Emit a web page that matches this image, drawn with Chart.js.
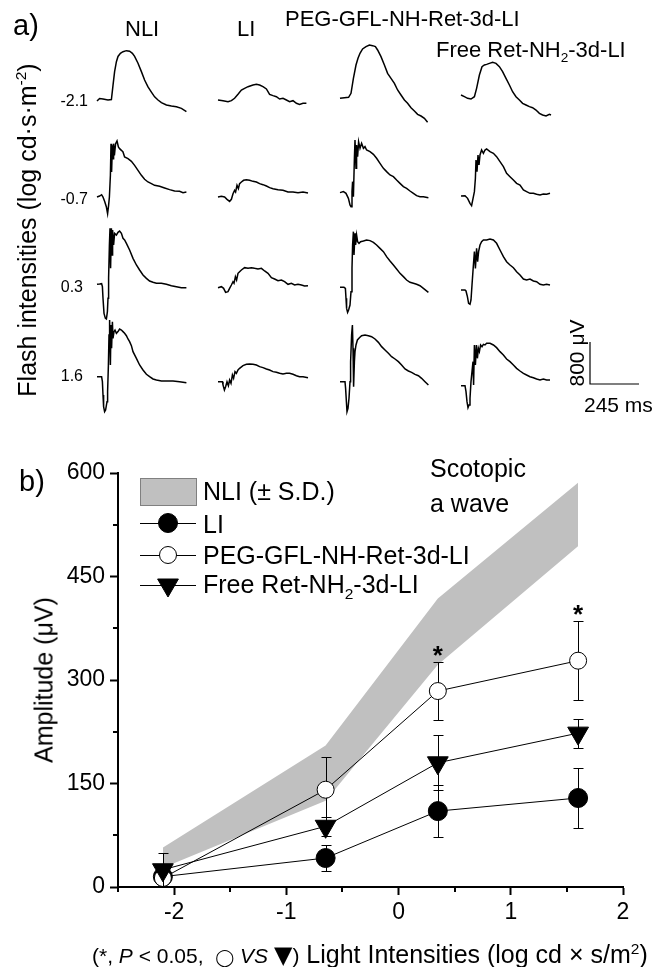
<!DOCTYPE html>
<html>
<head>
<meta charset="utf-8">
<title>ERG traces and scotopic a-wave amplitude</title>
<script src="https://cdn.jsdelivr.net/npm/chart.js"></script>
<style>
  html, body { margin: 0; padding: 0; background: #fff; }
  #fig { position: relative; width: 654px; height: 967px; overflow: hidden;
         font-family: "Liberation Sans", Arial, sans-serif; color: #000; }
  #fig canvas { position: absolute; left: 0; }
  .t { position: absolute; white-space: nowrap; line-height: 1; }
  .t sub, .t sup { font-size: 62%; line-height: 0; }
  .rot { transform: translate(-50%, -50%) rotate(-90deg); }
  .sym { line-height: 0; font-family: "DejaVu Sans", sans-serif; }
</style>
</head>
<body>
<div id="fig">
  <canvas id="ergChart" width="654" height="470" style="top:0"></canvas>
  <canvas id="ampChart" width="654" height="527" style="top:440px"></canvas>

  <!-- panel a labels -->
  <div class="t" style="left:13px;top:11px;font-size:29px">a)</div>
  <div class="t" style="left:125px;top:18px;font-size:22px">NLI</div>
  <div class="t" style="left:237px;top:18px;font-size:22px">LI</div>
  <div class="t" style="left:285px;top:8px;font-size:22px">PEG-GFL-NH-Ret-3d-LI</div>
  <div class="t" style="left:436px;top:39px;font-size:22px">Free Ret-NH<sub>2</sub>-3d-LI</div>
  <div class="t" style="right:566px;top:93px;font-size:16px;text-align:right">-2.1</div>
  <div class="t" style="right:566px;top:191px;font-size:16px;text-align:right">-0.7</div>
  <div class="t" style="right:571px;top:279px;font-size:16px;text-align:right">0.3</div>
  <div class="t" style="right:571px;top:368px;font-size:16px;text-align:right">1.6</div>
  <div class="t rot" style="left:27px;top:230px;font-size:25px">Flash intensities (log cd·s·m<sup>-2</sup>)</div>
  <div class="t rot" style="left:576px;top:353px;font-size:21px">800 μV</div>
  <div class="t" style="left:584px;top:394px;font-size:21px">245 ms</div>

  <!-- panel b labels -->
  <div class="t" style="left:19px;top:467px;font-size:29px">b)</div>
  <div class="t" style="left:203px;top:479px;font-size:25px">NLI (± S.D.)</div>
  <div class="t" style="left:203px;top:512px;font-size:25px">LI</div>
  <div class="t" style="left:203px;top:543px;font-size:25px">PEG-GFL-NH-Ret-3d-LI</div>
  <div class="t" style="left:203px;top:572px;font-size:25px">Free Ret-NH<sub>2</sub>-3d-LI</div>
  <div class="t" style="left:430px;top:456px;font-size:25px">Scotopic</div>
  <div class="t" style="left:430px;top:491px;font-size:25px">a wave</div>
  <div class="t rot" style="left:44px;top:680px;font-size:25px">Amplitude (μV)</div>
  <div class="t" style="left:92px;top:942px;font-size:25px"><span style="font-size:21px">(*, <i>P</i> &lt; 0.05,&nbsp; <span class="sym" style="font-size:17px">◯</span> <i>VS</i> <span class="sym" style="font-size:24px">▼</span>)</span> Light Intensities (log cd × s/m<sup>2</sup>)</div>
</div>

<script>
Chart.defaults.font.family = '"Liberation Sans", Arial, sans-serif';
Chart.defaults.color = '#000';

// ---------- panel a: ERG traces, time (ms from trace start) / amplitude (µV) ----------
// flash -2.1
const t_NLI_1 = [0,13,30,55,72,80,88,97,105,117,130,147,163,177,188,205,222,238,255,272,288,305,322,347,372,397,422,447];
const v_NLI_1 = [-20,30,20,0,10,280,540,730,830,890,920,940,930,890,830,700,540,380,250,150,60,0,-50,-95,-115,-130,-160,-220];
const t_LI_1 = [0,25,50,67,83,100,117,133,150,175,192,208,225,242,258,275,292,308,325,342,358,375,392,408,425,442];
const v_LI_1 = [0,-13,-32,-13,32,108,190,222,254,286,298,286,254,210,108,83,63,19,32,0,-32,-13,-63,-83,-63,-63];
const t_PEG_1 = [0,22,43,55,67,80,90,100,113,130,147,163,177,188,205,222,238,255,272,288,305,322,338,355,372,388,405,422,438];
const v_PEG_1 = [32,45,51,127,413,667,794,889,972,1016,1048,1035,1016,953,826,667,508,413,318,191,95,0,-63,-146,-209,-273,-305,-349,-425];
const t_FREE_1 = [0,17,33,50,67,78,92,105,117,128,142,158,175,192,208,225,242,258,275,292,308,325,342,358,375,392,408,425,442,450];
const v_FREE_1 = [95,63,32,19,63,222,476,635,667,679,698,717,698,635,540,413,286,158,63,0,-64,-96,-127,-146,-191,-254,-286,-305,-273,-286];
// flash -0.7
const t_NLI_2 = [0,13,23,30,38,47,53,58,62,67,70,73,77,80,83,87,93,100,107,113,122,130,138,155,172,188,205,222,238,255,272,288,313,338,363,388,413,430,447];
const v_NLI_2 = [0,19,44,0,-83,-191,-318,-159,0,413,1016,476,984,730,1016,794,1016,1067,953,921,889,857,762,730,679,603,508,413,337,286,254,222,203,171,140,114,108,83,95];
const t_LI_2 = [0,17,33,45,58,67,75,83,88,95,102,108,117,128,142,158,175,192,208,225,242,258,275,300,325,350,375,400,425,450];
const v_LI_2 = [0,13,0,-44,-83,-44,63,127,95,222,159,254,286,318,330,318,298,286,254,235,210,178,159,140,127,95,95,83,95,76];
const t_PEG_2 = [0,17,30,42,50,55,60,63,67,72,75,80,83,88,93,100,108,117,125,133,150,167,183,200,217,233,250,267,283,300,317,333,350,367,383,400,417,442];
const v_PEG_2 = [83,102,70,-25,-152,-184,102,292,6,737,1086,546,991,768,1054,927,1022,927,959,895,864,813,737,641,546,483,419,387,324,260,197,165,114,70,25,6,6,-13];
const t_FREE_2 = [0,20,33,45,53,62,67,72,75,80,85,90,95,103,112,120,128,145,162,178,195,212,228,245,262,278,295,312,328,345,362,378,395,412,428,445];
const v_FREE_2 = [19,25,-25,-121,-165,6,102,356,705,483,800,610,800,895,832,895,914,864,832,768,673,578,451,387,324,260,229,133,102,70,70,51,38,57,51,70];
// flash 0.3
const t_NLI_3 = [0,13,23,27,30,35,42,47,52,55,58,62,65,68,72,75,78,83,88,97,105,113,122,130,138,147,163,180,197,213,230,247,263,280,297,322,347,372,397,422,447];
const v_NLI_3 = [-6,0,6,-51,-273,-559,-654,-667,-527,-273,108,743,1060,298,1060,552,1029,743,965,933,984,1010,965,870,838,775,648,489,362,267,171,108,57,32,13,13,-6,-32,-51,-70,-70];
const t_LI_3 = [0,17,28,38,50,58,67,75,80,87,93,100,108,117,133,150,167,183,200,217,233,250,267,283,300,317,333,350,367,383,400,417,433,450];
const v_LI_3 = [-70,-51,-83,-159,-146,-83,-19,44,13,140,76,203,235,267,311,298,311,298,286,298,248,203,121,95,63,76,44,-6,13,-19,-6,-19,-38,-32];
const t_PEG_3 = [0,20,27,30,33,38,43,50,55,60,63,67,70,75,78,83,88,95,103,117,133,150,167,183,200,217,233,250,267,283,300,317,333,350,367,383,400,417,442];
const v_PEG_3 = [-64,-64,-83,-273,-464,-540,-495,-400,-146,298,743,997,552,965,743,933,806,775,806,819,838,826,794,743,679,616,521,438,362,286,203,140,76,32,13,-6,-32,-83,-159];
const t_FREE_3 = [0,20,25,32,38,45,50,55,62,67,72,78,83,88,95,103,112,128,145,162,178,195,212,228,245,262,278,295,312,328,345,362,378,395,412,428,445];
const v_FREE_3 = [-114,-114,-133,-241,-368,-387,-305,-19,362,616,298,679,425,616,743,806,838,838,857,838,775,648,521,425,362,311,235,171,95,76,95,57,44,-6,-19,-6,-19];
// flash 1.6
const t_NLI_4 = [0,23,27,30,33,38,43,50,53,57,60,63,67,70,73,77,80,85,90,97,105,113,122,130,138,147,155,163,172,180,197,213,230,247,263,280,297,322,347,380,413,447];
const v_NLI_4 = [6,6,-89,-343,-565,-660,-629,-470,-279,229,800,1086,229,991,546,1054,737,864,895,832,864,914,895,864,832,787,724,673,597,483,356,229,133,51,6,-38,-57,-76,-76,-76,-89,-108];
const t_LI_4 = [0,22,25,32,38,45,52,58,65,72,78,85,92,100,108,125,142,158,175,192,208,225,242,258,275,292,308,325,342,358,375,392,408,425,450];
const v_LI_4 = [-89,-89,-152,-248,-184,-89,-165,-57,-121,38,-25,102,70,133,165,216,241,248,241,229,197,178,152,133,102,89,70,57,70,70,51,25,6,6,-13];
const t_PEG_4 = [0,25,28,32,35,40,45,50,53,58,62,65,68,72,75,80,87,97,108,125,142,158,175,192,208,225,242,258,275,292,308,325,342,358,375,392,408,425,442];
const v_PEG_4 = [-89,-89,-216,-470,-660,-597,-406,-89,292,800,991,546,-184,292,483,610,705,749,787,800,787,768,724,660,578,514,451,387,343,292,229,152,114,89,51,25,-25,-89,-152];
const t_FREE_4 = [0,20,25,30,35,40,45,50,55,60,63,67,72,77,82,87,92,98,105,112,120,128,145,162,178,195,212,228,245,262,278,295,312,328,345,362,378,395,412,428,445];
const v_FREE_4 = [-165,-165,-279,-470,-584,-533,-406,-89,102,292,-152,610,229,610,356,546,483,610,578,622,610,641,641,610,559,483,419,343,292,229,165,114,70,38,6,-13,-38,-57,-38,-57,-57];

const scaleBarUv = 800;
const scaleBarMs = 245;

// ---------- panel b: scotopic a-wave amplitude (µV) ----------
const lightX = [-2.1, -0.65, 0.35, 1.6];
const nliUpper = [57, 205, 418, 586];
const nliLower = [28, 125, 322, 494];
const liMean = [15, 42, 110, 129];
const liSD = [8, 19, 38, 43];
const pegMean = [13, 141, 284, 328];
const pegSD = [8, 47, 42, 57];
const freeMean = [25, 88, 180, 223];
const freeSD = [24, 14, 40, 21];
const pegVsFreeSig = [false, false, true, true];
const xTicks = [-2, -1, 0, 1, 2];
const xMinor = [-2.5, -1.5, -0.5, 0.5, 1.5];
const yTicks = [0, 150, 300, 450, 600];
const yMinor = [75, 225, 375, 525];

// ---------- panel a chart ----------
// one chart for the whole block of traces; 49 px = 245 ms, 42 px = 800 µV (scale bar)
var msPerPx = scaleBarMs / 49;
var uvPerPx = scaleBarUv / 42;
var colLeft = [97, 218, 340, 461];   // px where each column of traces starts
var rowBase = [100, 197, 284, 377];  // px baseline of each flash row
var traceRows = [
  [[t_NLI_1, v_NLI_1], [t_LI_1, v_LI_1], [t_PEG_1, v_PEG_1], [t_FREE_1, v_FREE_1]],
  [[t_NLI_2, v_NLI_2], [t_LI_2, v_LI_2], [t_PEG_2, v_PEG_2], [t_FREE_2, v_FREE_2]],
  [[t_NLI_3, v_NLI_3], [t_LI_3, v_LI_3], [t_PEG_3, v_PEG_3], [t_FREE_3, v_FREE_3]],
  [[t_NLI_4, v_NLI_4], [t_LI_4, v_LI_4], [t_PEG_4, v_PEG_4], [t_FREE_4, v_FREE_4]]
];

var ergDatasets = [];
traceRows.forEach(function(row, r) {
  row.forEach(function(tr, c) {
    var x0 = colLeft[c] * msPerPx, y0 = (470 - rowBase[r]) * uvPerPx;
    ergDatasets.push({
      data: tr[0].map(function(t, i) { return { x: x0 + t, y: y0 + tr[1][i] }; }),
      borderColor: '#000', borderWidth: 1.5, pointRadius: 0, fill: false, tension: 0
    });
  });
});
// scale bar: corner at (590, 384) px
var sbX = 590 * msPerPx, sbY = (470 - 384) * uvPerPx;
ergDatasets.push({
  data: [{ x: sbX, y: sbY + scaleBarUv }, { x: sbX, y: sbY }, { x: sbX + scaleBarMs, y: sbY }],
  borderColor: '#000', borderWidth: 1.2, pointRadius: 0, fill: false, tension: 0
});

new Chart(document.getElementById('ergChart'), {
  type: 'line',
  data: { datasets: ergDatasets },
  options: {
    responsive: false, animation: false, events: [],
    layout: { padding: 0 },
    plugins: { legend: { display: false }, tooltip: { enabled: false } },
    scales: {
      x: { type: 'linear', display: false, min: 0, max: 654 * msPerPx },
      y: { type: 'linear', display: false, min: 0, max: 470 * uvPerPx }
    }
  }
});

// ---------- panel b chart ----------
var bandGray = 'rgb(192,192,192)';
function pts(ys) { return lightX.map(function(x, i) { return { x: x, y: ys[i] }; }); }

// error bars under each dataset's own line and markers
var errorBars = {
  id: 'errorBars',
  beforeDatasetDraw: function(chart, args) {
    var ds = chart.data.datasets[args.index];
    if (!ds.errors) return;
    var ctx = chart.ctx, xs = chart.scales.x, ys = chart.scales.y;
    ctx.save();
    ctx.strokeStyle = '#000';
    ctx.lineWidth = 1;
    ds.data.forEach(function(p, i) {
      var px = Math.round(xs.getPixelForValue(p.x)) + 0.5;
      var top = Math.round(ys.getPixelForValue(p.y + ds.errors[i])) + 0.5;
      var bot = Math.round(ys.getPixelForValue(p.y - ds.errors[i])) + 0.5;
      ctx.beginPath();
      ctx.moveTo(px, top); ctx.lineTo(px, bot);
      ctx.moveTo(px - 5, top); ctx.lineTo(px + 5, top);
      ctx.moveTo(px - 5, bot); ctx.lineTo(px + 5, bot);
      ctx.stroke();
    });
    ctx.restore();
  }
};

// minor ticks, asterisks and the legend symbols
var extras = {
  id: 'extras',
  afterDraw: function(chart) {
    var ctx = chart.ctx, xs = chart.scales.x, ys = chart.scales.y, area = chart.chartArea;
    ctx.save();
    ctx.strokeStyle = '#000';
    ctx.lineWidth = 2;
    xMinor.forEach(function(v) {
      var px = Math.round(xs.getPixelForValue(v));
      ctx.beginPath(); ctx.moveTo(px, area.bottom); ctx.lineTo(px, area.bottom + 5); ctx.stroke();
    });
    yMinor.forEach(function(v) {
      var py = Math.round(ys.getPixelForValue(v));
      ctx.beginPath(); ctx.moveTo(area.left - 5, py); ctx.lineTo(area.left, py); ctx.stroke();
    });

    // significance stars above PEG error bars
    ctx.fillStyle = '#000';
    ctx.font = 'bold 26px "Liberation Sans", Arial, sans-serif';
    ctx.textAlign = 'center';
    ctx.textBaseline = 'alphabetic';
    pegVsFreeSig.forEach(function(sig, i) {
      if (!sig) return;
      ctx.fillText('*', xs.getPixelForValue(lightX[i]), ys.getPixelForValue(pegMean[i] + pegSD[i]) + 2);
    });

    // legend symbols (text is in the page)
    ctx.fillStyle = bandGray;
    ctx.fillRect(140, 38, 56, 27);
    ctx.strokeStyle = '#808080';
    ctx.lineWidth = 1;
    ctx.strokeRect(140.5, 38.5, 56, 27);
    [[2, 83], [3, 115], [4, 145]].forEach(function(item) {
      var ds = chart.data.datasets[item[0]], y = item[1];
      ctx.strokeStyle = '#000';
      ctx.lineWidth = 1;
      ctx.beginPath(); ctx.moveTo(140, y + 0.5); ctx.lineTo(196, y + 0.5); ctx.stroke();
      ctx.fillStyle = ds.pointBackgroundColor;
      ctx.strokeStyle = ds.pointBorderColor;
      ctx.lineWidth = ds.pointBorderWidth;
      Chart.helpers.drawPoint(ctx, {
        pointStyle: ds.pointStyle, radius: ds.pointRadius,
        rotation: ds.pointRotation || 0, borderWidth: ds.pointBorderWidth
      }, 168, y);
    });
    ctx.restore();
  }
};

new Chart(document.getElementById('ampChart'), {
  type: 'line',
  data: {
    datasets: [
      { label: 'NLI (± S.D.)', data: pts(nliUpper), fill: '+1', backgroundColor: bandGray,
        borderColor: 'transparent', borderWidth: 0, pointRadius: 0, order: 10 },
      { label: 'NLI lower', data: pts(nliLower), fill: false,
        borderColor: 'transparent', borderWidth: 0, pointRadius: 0, order: 11 },
      { label: 'LI', data: pts(liMean), errors: liSD, borderColor: '#000', borderWidth: 1,
        pointStyle: 'circle', pointRadius: 9.5, pointBackgroundColor: '#000',
        pointBorderColor: '#000', pointBorderWidth: 1, order: 2 },
      { label: 'PEG-GFL-NH-Ret-3d-LI', data: pts(pegMean), errors: pegSD, borderColor: '#000', borderWidth: 1,
        pointStyle: 'circle', pointRadius: 8.5, pointBackgroundColor: '#fff',
        pointBorderColor: '#000', pointBorderWidth: 1, order: 1 },
      { label: 'Free Ret-NH2-3d-LI', data: pts(freeMean), errors: freeSD, borderColor: '#000', borderWidth: 1,
        pointStyle: 'triangle', pointRotation: 180, pointRadius: 12, pointBackgroundColor: '#000',
        pointBorderColor: '#000', pointBorderWidth: 1, order: 0 }
    ]
  },
  options: {
    responsive: false, animation: false, events: [],
    layout: { padding: { top: 33, right: 31, left: 0, bottom: 0 } },
    elements: { line: { tension: 0 } },
    plugins: { legend: { display: false }, tooltip: { enabled: false } },
    scales: {
      x: {
        type: 'linear', min: -2.5, max: 2,
        afterFit: function(s) { s.height = 80; },
        afterBuildTicks: function(s) { s.ticks = xTicks.map(function(v) { return { value: v }; }); },
        ticks: { font: { size: 23 }, padding: 4, callback: function(v) { return String(v); } },
        grid: { drawOnChartArea: false, drawTicks: true, tickLength: 8, tickColor: '#000', tickWidth: 2 },
        border: { display: true, color: '#000', width: 2 }
      },
      y: {
        type: 'linear', min: 0, max: 600,
        afterFit: function(s) { s.width = 118; },
        afterBuildTicks: function(s) { s.ticks = yTicks.map(function(v) { return { value: v }; }); },
        ticks: { font: { size: 23 }, padding: 5, callback: function(v) { return String(v); } },
        grid: { drawOnChartArea: false, drawTicks: true, tickLength: 8, tickColor: '#000', tickWidth: 2 },
        border: { display: true, color: '#000', width: 2 }
      }
    }
  },
  plugins: [errorBars, extras]
});
</script>
</body>
</html>
